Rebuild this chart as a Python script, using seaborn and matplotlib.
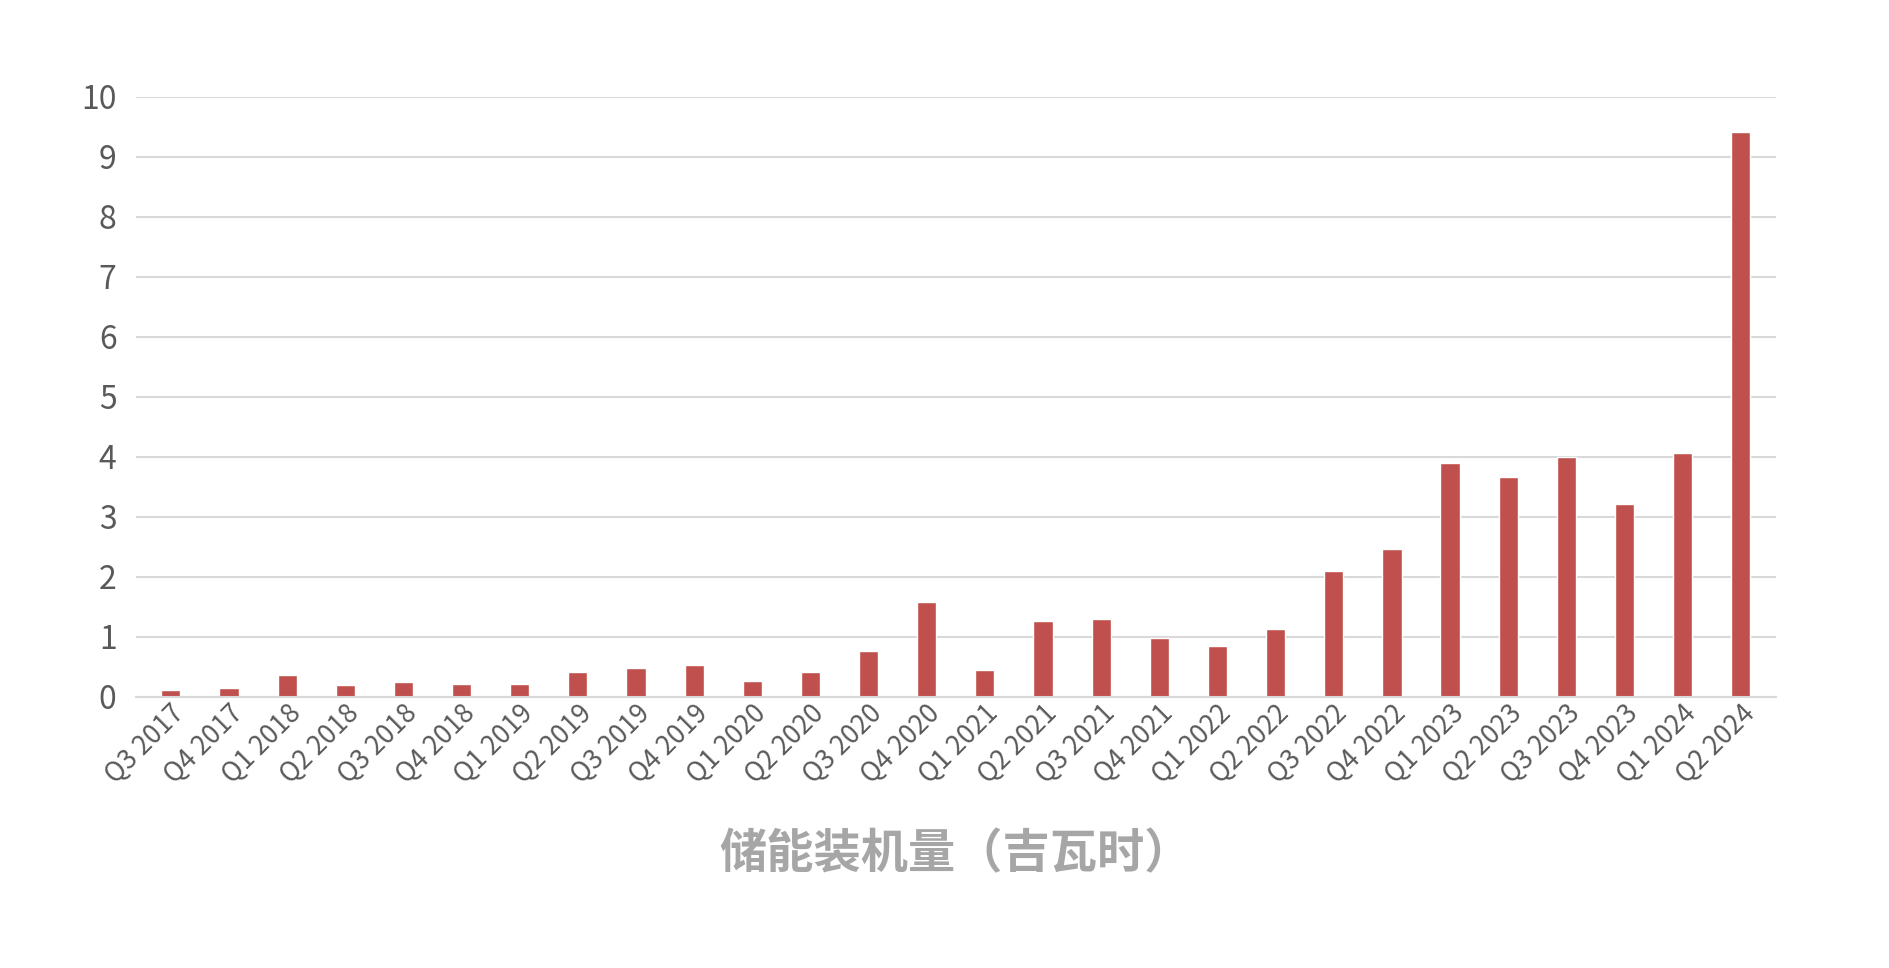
import matplotlib
matplotlib.use("Agg")
import matplotlib.pyplot as plt
import seaborn as sns
import pandas as pd

quarters = ["Q3 2017","Q4 2017","Q1 2018","Q2 2018","Q3 2018","Q4 2018","Q1 2019","Q2 2019",
            "Q3 2019","Q4 2019","Q1 2020","Q2 2020","Q3 2020","Q4 2020","Q1 2021","Q2 2021",
            "Q3 2021","Q4 2021","Q1 2022","Q2 2022","Q3 2022","Q4 2022","Q1 2023","Q2 2023",
            "Q3 2023","Q4 2023","Q1 2024","Q2 2024"]
values = [0.12,0.15,0.37,0.20,0.25,0.22,0.22,0.42,0.48,0.53,0.27,0.42,0.76,1.58,0.45,1.27,
          1.30,0.98,0.85,1.13,2.10,2.47,3.89,3.66,3.99,3.21,4.06,9.42]
xlabel = "储能装机量（吉瓦时）"

sns.set_theme(style="white")
plt.rcParams['font.family'] = ['Noto Sans CJK SC', 'DejaVu Sans']

df = pd.DataFrame({"q": quarters, "v": values})
fig = plt.figure(figsize=(18.89, 9.68), dpi=100)
ax = fig.add_axes([0.072, 0.28, 0.868, 0.62])
sns.barplot(data=df, x="q", y="v", color="#C0504D", width=0.33, saturation=1, ax=ax)
ax.set_ylim(0, 10)
ax.set_yticks(range(0, 11))
ax.yaxis.grid(True, color="#D9D9D9", linewidth=1.5)
ax.set_axisbelow(True)
for s in ["top", "right", "left"]:
    ax.spines[s].set_visible(False)
ax.spines["bottom"].set_color("#D9D9D9")
ax.spines["bottom"].set_linewidth(1.5)
ax.tick_params(axis="y", labelsize=23, colors="#595959", length=0, pad=14)
ax.tick_params(axis="x", labelsize=19, colors="#595959", length=0, pad=2)
plt.setp(ax.get_xticklabels(), rotation=45, ha="right", rotation_mode="anchor")
ax.set_ylabel("")
ax.set_xlabel(xlabel, fontsize=34, color="#A6A6A6", fontweight="bold", labelpad=30)
ax.set_xlim(-0.6, len(quarters) - 0.4)
fig.savefig("out.png", dpi=100)
